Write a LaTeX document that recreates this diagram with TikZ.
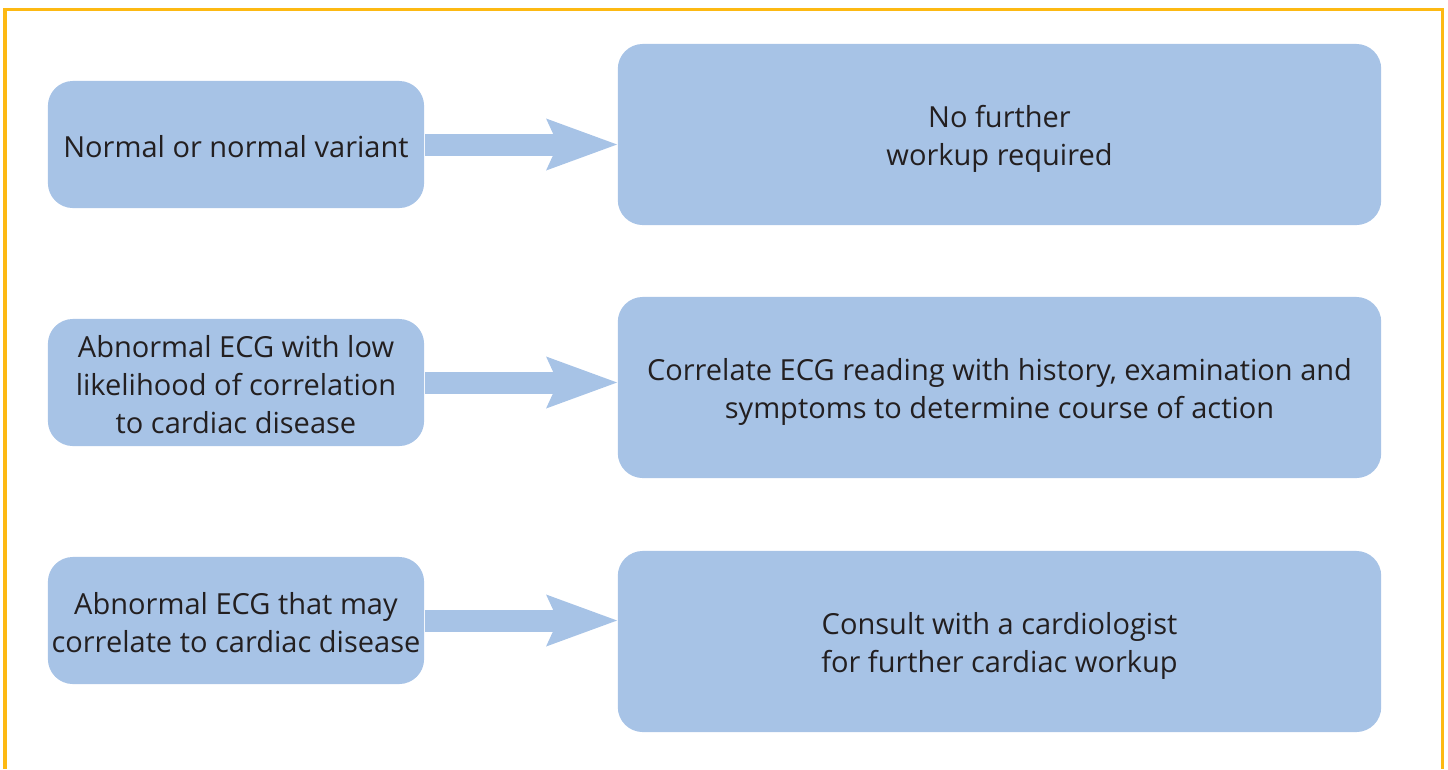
\documentclass[tikz,border=0pt]{standalone}
\usepackage{fontspec}
\setmainfont{Open Sans}
\usetikzlibrary{arrows.meta}
\definecolor{boxblue}{HTML}{A7C3E6}
\definecolor{framegold}{HTML}{FDB913}
\definecolor{textdark}{HTML}{231F20}
% taller first line, pushes the text a little down in its box
\newcommand{\padfind}{\rule{0pt}{7.4pt}}
\newcommand{\padact}{\rule{0pt}{9pt}}

\begin{document}
\begin{tikzpicture}
[x = 0.01cm, y = -0.01cm,
finding/.style = {fill = boxblue, rounded corners = 0.25cm, minimum width = 3.76cm,
  minimum height = 1.27cm, align = center, text = textdark, inner sep = 0pt,
  font = \fontsize{8.25}{10.8}\selectfont},
action/.style = {finding, minimum width = 7.63cm, minimum height = 1.81cm},
flow/.style = {boxblue, line width = 0.22cm,
  -{Stealth[length = 0.71cm, width = 0.52cm, inset = 0.12cm, line width = 0pt]}},
]
\useasboundingbox (0,0) rectangle (1448,769);
\draw [framegold, line width = 0.03cm] (5,769) -- (5,9) -- (1442,9) -- (1442,769);
% ECG findings
\node [finding] (normal) at (236,144.5) {\padfind Normal or normal variant};
\node [finding] (lowrisk) at (236,382.5) {\padfind Abnormal ECG with low\\likelihood of correlation\\to cardiac disease};
\node [finding] (highrisk) at (236,620.5) {\padfind Abnormal ECG that may\\correlate to cardiac disease};
% what to do next
\node [action] (noworkup) at (999.5,134.5) {\padact No further\\workup required};
\node [action] (correlate) at (999.5,387.5) {\padact Correlate ECG reading with history, examination and\\symptoms to determine course of action};
\node [action] (consult) at (999.5,641.5) {\padact Consult with a cardiologist\\for further cardiac workup};
\draw [flow] (normal.east) -- (normal.east -| noworkup.west);
\draw [flow] (lowrisk.east) -- (lowrisk.east -| correlate.west);
\draw [flow] (highrisk.east) -- (highrisk.east -| consult.west);
\end{tikzpicture}
\end{document}
